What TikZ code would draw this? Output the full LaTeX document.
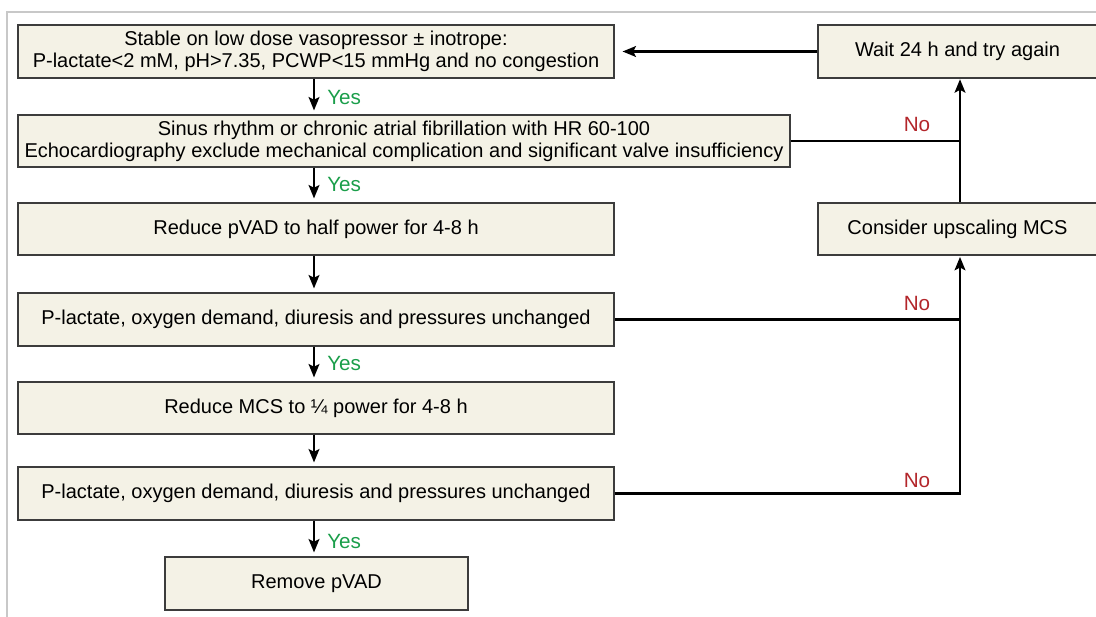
\documentclass[tikz,border=0pt]{standalone}
\usepackage{fontspec}
\setmainfont{Liberation Sans}
\usetikzlibrary{arrows.meta}
\definecolor{boxfill}{HTML}{F4F2E6}
\definecolor{boxline}{HTML}{3C3C3C}
\definecolor{yesgreen}{HTML}{1A9E4A}
\definecolor{nored}{HTML}{B3262B}
\definecolor{framegray}{HTML}{C8C8C8}
\def\pxu{0.75pt}
\begin{document}
\begin{tikzpicture}[x=0.75pt,y=-0.75pt,
  box/.style={draw=boxline, line width=0.8pt, fill=boxfill, inner sep=0pt,
    align=center, minimum height=53*\pxu, font=\fontsize{15}{16.5}\selectfont},
  conn/.style={line width=2pt, black},
  arr/.style={conn, -{Stealth[length=10pt,width=8pt,inset=2pt]}},
  yes/.style={text=yesgreen, anchor=west, inner sep=0pt, font=\fontsize{15.5}{17}\selectfont},
  no/.style={text=nored, inner sep=0pt, font=\fontsize{15.5}{17}\selectfont}]
\useasboundingbox (0,0) rectangle (1096,617);
\draw[framegray, line width=1pt] (7,617) -- (7,12) -- (1096,12);

\node[box, minimum width=596*\pxu] (b1) at (316,51.5)
  {\raisebox{-1.5pt}{\shortstack{Stable on low dose vasopressor ± inotrope:\\P-lactate<2 mM, pH>7.35, PCWP<15 mmHg and no congestion}}};
\node[box, minimum width=772*\pxu, minimum height=52*\pxu] (b2) at (404,141)
  {Sinus rhythm or chronic atrial fibrillation with HR 60-100\\Echocardiography exclude mechanical complication and significant valve insufficiency};
\node[box, minimum width=596*\pxu, minimum height=52*\pxu] (b3) at (316,229) {Reduce pVAD to half power for 4-8 h};
\node[box, minimum width=596*\pxu] (b4) at (316,319.5) {P-lactate, oxygen demand, diuresis and pressures unchanged};
\node[box, minimum width=596*\pxu, minimum height=52*\pxu] (b5) at (316,408) {Reduce MCS to ¼ power for 4-8 h};
\node[box, minimum width=596*\pxu] (b6) at (316,493.5) {P-lactate, oxygen demand, diuresis and pressures unchanged};
\node[box, minimum width=303*\pxu] (b7) at (316.5,583.5) {Remove pVAD};
\node[box, minimum width=279*\pxu] (wait) at (957.5,51.5) {Wait 24 h and try again};
\node[box, minimum width=279*\pxu, minimum height=52*\pxu] (cons) at (957.5,229) {Consider upscaling MCS};

\coordinate (cx) at (314,0);
\coordinate (sx) at (960,0);

\draw[arr, shorten >=3pt] (b1.south -| cx) -- (b2.north -| cx);
\draw[arr, shorten >=3pt] (b2.south -| cx) -- (b3.north -| cx);
\draw[arr, shorten >=3pt] (b3.south -| cx) -- (b4.north -| cx);
\draw[arr, shorten >=3pt] (b4.south -| cx) -- (b5.north -| cx);
\draw[arr, shorten >=3pt] (b5.south -| cx) -- (b6.north -| cx);
\draw[arr, shorten >=3pt] (b6.south -| cx) -- (b7.north -| cx);

\node[yes] (y1) at (327,97) {Yes};
\node[yes] (y2) at (327,184) {Yes};
\node[yes] (y3) at (327,363) {Yes};
\node[yes] (y4) at (327,541) {Yes};

\draw[arr, shorten >=1pt] (b6.east) -| (cons.south -| sx);
\draw[conn] (b4.east) -- (b4.east -| sx);
\draw[conn] (b2.east) -- (b2.east -| sx);
\draw[arr, shorten >=0.5pt] (cons.north -| sx) -- (wait.south -| sx);
\draw[arr, shorten >=6pt] (wait.west) -- (b1.east);

\node[no] (n1) at (917,124) {No};
\node[no] (n2) at (917,303) {No};
\node[no] (n3) at (917,480) {No};
\end{tikzpicture}
\end{document}
